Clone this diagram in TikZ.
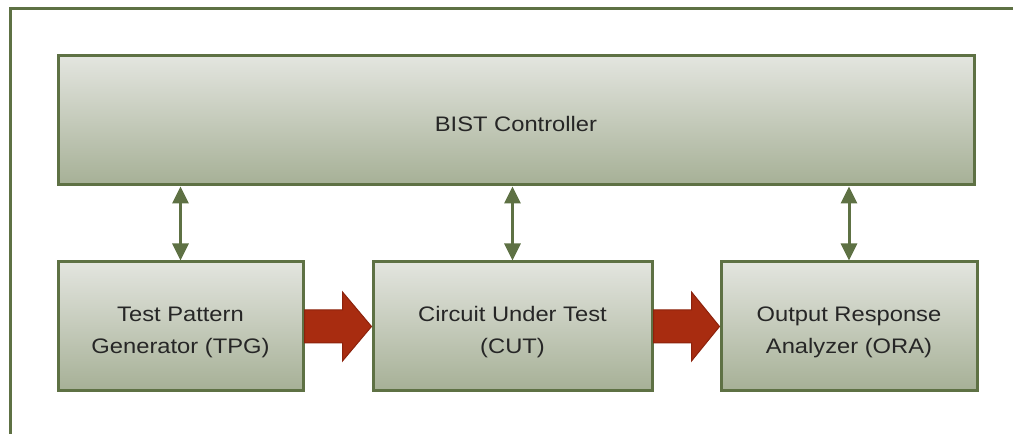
\documentclass[tikz,border=0pt]{standalone}
\usepackage{fontspec}
\setmainfont{Liberation Sans}[FakeStretch=1.13]
\usetikzlibrary{arrows.meta,calc}

\definecolor{frameGreen}{RGB}{94,113,68}
\definecolor{boxTop}{RGB}{227,229,223}
\definecolor{boxBottom}{RGB}{166,176,150}
\definecolor{arrowRed}{RGB}{168,44,16}
\definecolor{arrowEdge}{RGB}{140,34,12}

\newcommand\lift[1]{\raisebox{-5pt}[\height][\depth]{\begin{tabular}{@{}c@{}}#1\end{tabular}}}

\tikzset{
  block/.style={draw=frameGreen, line width=3pt, top color=boxTop,
    bottom color=boxBottom, minimum height=129pt, align=center,
    inner sep=0pt, text=black!85, font=\fontsize{21}{32}\selectfont},
  link/.style={draw=frameGreen, line width=3pt,
    {Triangle[width=16pt,length=17pt]}-{Triangle[width=16pt,length=17pt]}},
  bigarrow/.style={fill=arrowRed, draw=arrowEdge, line width=1pt}
}

\begin{document}
\begin{tikzpicture}[x=1pt,y=1pt]
    \useasboundingbox (0,0) rectangle (1013,434);
    % outer frame, cut at the bottom and right
    \draw[frameGreen, line width=3pt] (10.5,0) -- (10.5,425.5) -- (1013,425.5);

    \node[block, minimum width=916pt] (bist) at (516,313.5) {\lift{BIST Controller}};
    \node[block, minimum width=245pt] (tpg) at (180.5,107.5) {\lift{Test Pattern\\Generator (TPG)}};
    \node[block, minimum width=279pt] (cut) at (512.5,107.5) {\lift{Circuit Under Test\\(CUT)}};
    \node[block, minimum width=256pt] (ora) at (849,107.5) {\lift{Output Response\\Analyzer (ORA)}};

    % links to the controller
    \foreach \b in {tpg,cut,ora}
    {
      \draw[link] (\b.north) -- (\b.north |- bist.south);
    }

    % data flow
    \foreach \a/\b in {tpg/cut,cut/ora}
    {
      \filldraw[bigarrow] ($(\a.east)+(0,16.5)$) -- ($(\a.east)+(38,16.5)$)
        -- ($(\a.east)+(38,34.5)$) -- (\b.west) -- ($(\a.east)+(38,-34.5)$)
        -- ($(\a.east)+(38,-16.5)$) -- ($(\a.east)+(0,-16.5)$) -- cycle;
    }
\end{tikzpicture}
\end{document}
